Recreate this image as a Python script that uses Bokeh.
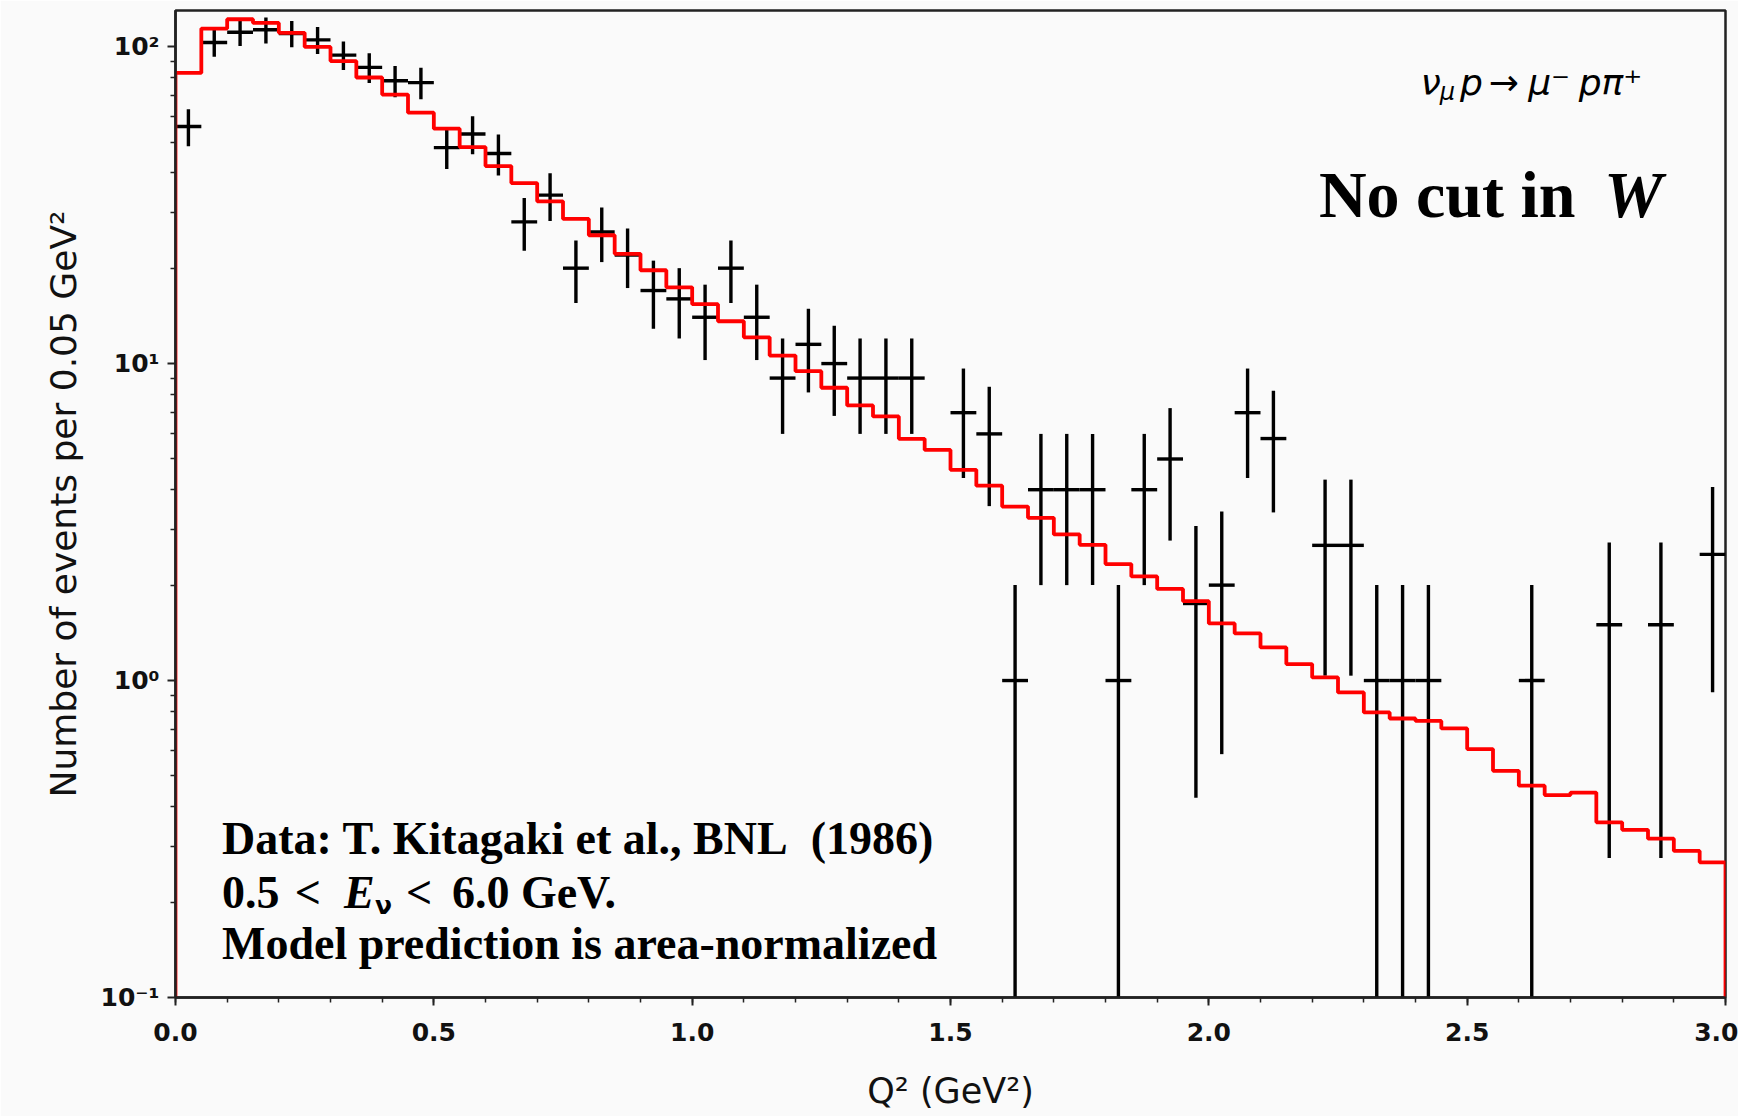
import numpy as np
from bokeh.plotting import figure
from bokeh.models import (Label, FixedTicker, SingleIntervalTicker, PrintfTickFormatter,
                          CustomJSTickFormatter, Range1d, ColumnDataSource)
from bokeh.embed import file_html
from bokeh.resources import INLINE

# ---------------- data ----------------
bin_width = 0.05

data_q2 = [0.025, 0.075, 0.125, 0.175, 0.225, 0.275, 0.325, 0.375, 0.425, 0.475,
           0.525, 0.575, 0.625, 0.675, 0.725, 0.775, 0.825, 0.875, 0.925, 0.975,
           1.025, 1.075, 1.125, 1.175, 1.225, 1.275, 1.325, 1.375, 1.425,
           1.525, 1.575, 1.625, 1.675, 1.725, 1.775, 1.825, 1.875, 1.925, 1.975,
           2.025, 2.075, 2.125, 2.225, 2.275, 2.325, 2.375, 2.425,
           2.625, 2.775, 2.875, 2.975]
data_counts = [56, 103, 111, 113, 110, 105, 94, 86, 78, 77,
               48, 53, 46, 28, 34, 20, 26, 22, 17, 16,
               14, 20, 14, 9, 11.5, 10, 9, 9, 9,
               7, 6, 1, 4, 4, 4, 1, 4, 5, 1.75,
               2, 7, 5.8, 2.67, 2.67, 1, 1, 1,
               1, 1.5, 1.5, 2.5]

model_values = [82.6, 114, 122, 118.8, 110.5, 99.8, 90, 79.9, 70.6, 61.9,
                55.1, 48.2, 42.0, 37.1, 32.5, 28.6, 25.4, 22.2, 19.7, 17.4,
                15.4, 13.6, 12.1, 10.6, 9.46, 8.39, 7.38, 6.81, 5.79, 5.34,
                4.62, 4.12, 3.54, 3.26, 2.89, 2.68, 2.33, 2.13, 1.945, 1.78,
                1.514, 1.408, 1.272, 1.127, 1.023, 0.917, 0.793, 0.759, 0.746, 0.706,
                0.608, 0.519, 0.466, 0.435, 0.443, 0.357, 0.338, 0.317, 0.290, 0.267]

x_tick_values = [0.0, 0.5, 1.0, 1.5, 2.0, 2.5, 3.0]
y_tick_values = [0.1, 1, 10, 100]

# ---------------- figure ----------------
BG = "#fafafa"
p = figure(width=1738, height=1116, output_backend="svg", toolbar_location=None,
           x_range=Range1d(0, 3.0), y_range=Range1d(0.1, 130), y_axis_type="log",
           min_border_left=175, min_border_right=13, min_border_top=10, min_border_bottom=119)
p.background_fill_color = BG
p.border_fill_color = BG
p.xgrid.visible = False
p.ygrid.visible = False
p.outline_line_color = "#222222"
p.outline_line_width = 2.5

# data error bars
x = np.array(data_q2, dtype=float)
n = np.array(data_counts, dtype=float)
err = np.sqrt(n)
lo = np.maximum(n - err, 1e-3)
hi = n + err
src = ColumnDataSource(dict(x=x, n=n, lo=lo, hi=hi,
                            xl=x - bin_width / 2, xr=x + bin_width / 2))
p.segment(x0="x", y0="lo", x1="x", y1="hi", source=src, line_color="black", line_width=3.4)
p.segment(x0="xl", y0="n", x1="xr", y1="n", source=src, line_color="black", line_width=3.4)

# model step histogram
edges = np.round(np.arange(len(model_values)) * bin_width, 3)
sx = np.concatenate([[0.0], edges, [3.0]])
sy = np.concatenate([[1e-3], model_values, [1e-3]])
p.step(x=sx, y=sy, mode="after", line_color="#ff0000", line_width=3.8)

# axes
p.xaxis.ticker = SingleIntervalTicker(interval=0.5, num_minor_ticks=5)
p.xaxis.formatter = PrintfTickFormatter(format="%.1f")
minor = [k * 10.0 ** e for e in range(-1, 3) for k in range(2, 10)]
p.yaxis.ticker = FixedTicker(ticks=y_tick_values, minor_ticks=minor)
p.yaxis.formatter = CustomJSTickFormatter(code="""
const e = Math.round(Math.log10(tick));
const sup = {'-':'\u207b','0':'\u2070','1':'\u00b9','2':'\u00b2','3':'\u00b3'};
return '10' + String(e).split('').map(c => sup[c]).join('');
""")

for ax in (p.xaxis[0], p.yaxis[0]):
    ax.axis_line_color = "#222222"
    ax.axis_line_width = 2.5
    ax.major_tick_line_color = "#222222"
    ax.minor_tick_line_color = "#222222"
    ax.major_tick_line_width = 2
    ax.minor_tick_line_width = 1.5
    ax.major_tick_out = 8
    ax.major_tick_in = 0
    ax.minor_tick_out = 5
    ax.minor_tick_in = 0
    ax.major_label_text_font = "DejaVu Sans"
    ax.major_label_text_font_size = "25px"
    ax.major_label_text_font_style = "bold"
    ax.major_label_text_color = "#111111"
    ax.major_label_standoff = 8
    ax.axis_label_text_font = "DejaVu Sans"
    ax.axis_label_text_font_size = "36px"
    ax.axis_label_text_font_style = "normal"
    ax.axis_label_text_color = "#111111"

p.xaxis.major_label_standoff = 17
p.xaxis.axis_label = "Q\u00b2 (GeV\u00b2)"
p.xaxis.axis_label_text_font_size = "35px"
p.xaxis.axis_label_standoff = 27
p.yaxis.axis_label = "Number of events per 0.05 GeV\u00b2"
p.yaxis.axis_label_standoff = 14


def lab(xv, yv, text, size, font="Liberation Serif", style="bold", align="left"):
    p.add_layout(Label(x=xv, y=yv, text=text, text_font=font, text_font_size=size,
                       text_font_style=style, text_align=align,
                       text_baseline="alphabetic", text_color="black"))


# reaction label
lab(2.410, 76.8, "\u03bd", "36px", font="DejaVu Sans", style="italic")
lab(2.447, 71.9, "\u03bc", "24px", font="DejaVu Sans", style="italic")
lab(2.486, 76.8, "p", "36px", font="DejaVu Sans", style="italic")
lab(2.542, 76.8, "\u2192", "36px", font="DejaVu Sans", style="normal")
lab(2.618, 76.8, "\u03bc\u207b", "36px", font="DejaVu Sans", style="italic")
lab(2.716, 76.8, "p\u03c0\u207a", "36px", font="DejaVu Sans", style="italic")

# No cut in W
lab(2.213, 34.2, "No cut in", "66px")
lab(2.765, 34.2, "W", "66px", style="bold italic")

# bottom-left notes
lab(0.09, 0.318, "Data: T. Kitagaki et al., BNL\u00a0\u00a0(1986)", "46px")
lab(0.09, 0.215, "0.5", "46px")
lab(0.231, 0.215, "<", "46px")
lab(0.326, 0.215, "E", "46px", style="bold italic")
lab(0.386, 0.1945, "\u03bd", "25px", font="DejaVu Sans", style="bold")
lab(0.446, 0.215, "<", "46px")
lab(0.535, 0.215, "6.0 GeV.", "46px")
lab(0.09, 0.1482, "Model prediction is area-normalized", "46px")

with open("out.html", "w", encoding="utf-8") as f:
    f.write(file_html(p, INLINE))
